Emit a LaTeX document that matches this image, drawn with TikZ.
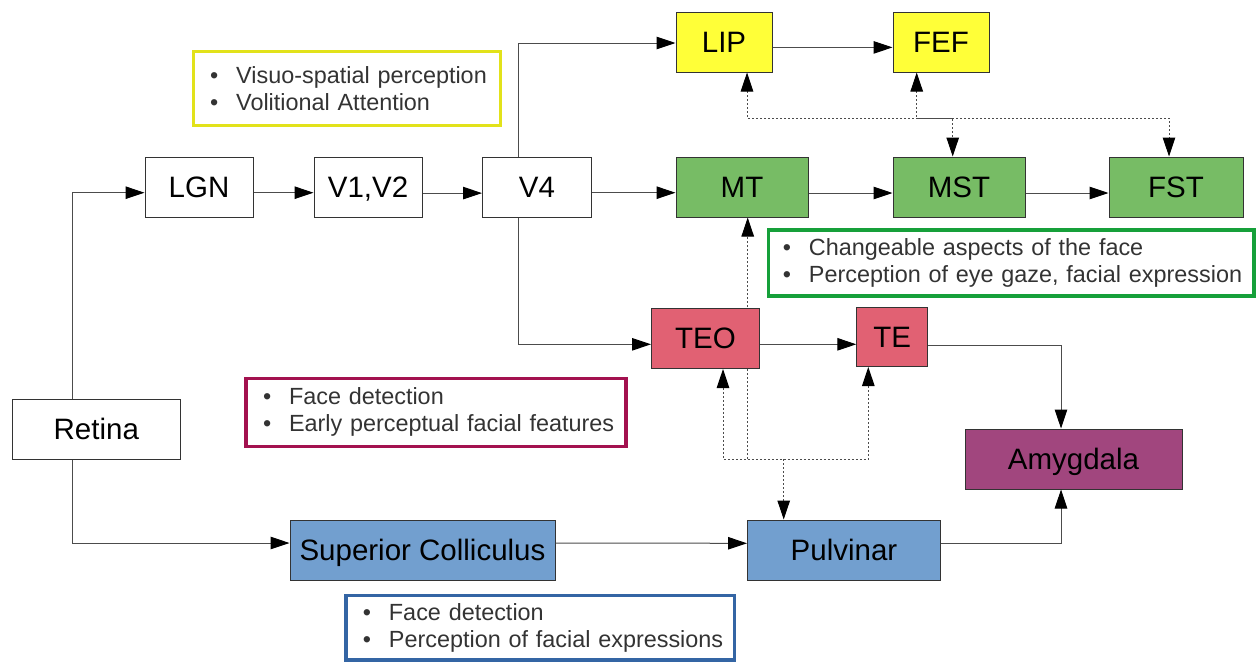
\documentclass[tikz,border=0pt]{standalone}
\usepackage{fontspec}
\setmainfont{Liberation Sans}
\usepackage{xcolor}
\usepackage{tikz}
\usetikzlibrary{positioning, arrows.meta, backgrounds}

\definecolor{dorsalyellow}{HTML}{FFFF38}
\definecolor{motiongreen}{HTML}{77BC65}
\definecolor{itred}{HTML}{E16173}
\definecolor{amygpurple}{HTML}{A1467E}
\definecolor{subblue}{HTML}{729FCF}
\definecolor{noteyellow}{HTML}{E2E21A}
\definecolor{notegreen}{HTML}{16A03A}
\definecolor{notecrimson}{HTML}{A3114F}
\definecolor{noteblue}{HTML}{3465A4}

\newcommand{\bitem}[1]{\mbox{\makebox[26pt][l]{\textbullet}#1}}

\begin{document}
\begin{tikzpicture}[x=1pt, y=-1pt,
  >={Triangle[length=19pt, width=12.5pt, color=black]},
  area/.style={draw=black!80, line width=1pt, inner sep=2pt, minimum height=60pt,
    text=black, text height=23pt, text depth=3pt, font=\fontsize{29.5}{34}\selectfont},
  note/.style={line width=3.5pt, align=left, inner ysep=0pt, text=black!80,
    font=\fontsize{23.4}{27}\selectfont},
  wire/.style={draw=black!70, line width=1pt},
  dotline/.style={wire, dash pattern=on 2pt off 2pt}]
\useasboundingbox (0,0) rectangle (1258,664);

% Top row
\node[area, fill=dorsalyellow, minimum width=96pt] (lip) at (724,42) {LIP};
\node[area, fill=dorsalyellow, minimum width=96pt] (fef) at (941,42) {FEF};

% Middle row
\node[area, minimum width=108pt] (lgn) at (199,187.3) {LGN};
\node[area, minimum width=108pt] (v12) at (368,187.3) {V1,V2};
\node[area, minimum width=109pt] (v4) at (537,187.3) {V4};
\node[area, fill=motiongreen, minimum width=132pt] (mt) at (742,187) {MT};
\node[area, fill=motiongreen, minimum width=132pt] (mst) at (959,187) {MST};
\node[area, fill=motiongreen, minimum width=134pt] (fst) at (1176,187) {FST};

% Ventral row
\node[area, fill=itred, minimum width=108pt] (teo) at (705.5,338.5) {TEO};
\node[area, fill=itred, minimum width=71pt, minimum height=59pt] (te) at (892.3,337) {TE};

% Bottom rows
\node[area, minimum width=168pt] (retina) at (96.3,429) {Retina};
\node[area, fill=amygpurple, minimum width=217pt] (amyg) at (1073.5,459) {Amygdala};
\node[area, fill=subblue, minimum width=265pt] (sc) at (422.5,550) {Superior Colliculus};
\node[area, fill=subblue, minimum width=193pt] (pulv) at (844,550) {Pulvinar};

% Notes
\node[note, draw=noteyellow, minimum width=307pt, minimum height=74pt, text width=274pt, inner xsep=16.5pt]
  (dorsalnote) at (347.2,88.5) {\bitem{Visuo-spatial perception}\\\bitem{Volitional Attention}};
\node[note, draw=notegreen, minimum width=485.7pt, minimum height=66pt, text width=456.7pt, inner xsep=14.5pt]
  (motionnote) at (1011.3,263) {\bitem{Changeable aspects of the face}\\\bitem{Perception of eye gaze, facial expression}};
\node[note, draw=notecrimson, minimum width=380pt, minimum height=67.8pt, text width=346pt, inner xsep=17pt]
  (ventralnote) at (436,412.4) {\bitem{Face detection}\\\bitem{Early perceptual facial features}};
\node[note, draw=noteblue, minimum width=388.7pt, minimum height=64.7pt, text width=354.7pt, inner xsep=17pt]
  (subnote) at (540.3,627.7) {\bitem{Face detection}\\\bitem{Perception of facial expressions}};

% Solid connections
\draw[wire, ->] ([xshift=-24pt]retina.north) |- ([yshift=-5.4pt]lgn.west);
\draw[wire, ->] ([xshift=-24pt]retina.south) |- ([yshift=7pt]sc.west);
\draw[wire, ->] ([yshift=-5.4pt]lgn.east) -- ([yshift=-5.4pt]v12.west);
\draw[wire, ->] ([yshift=-5.8pt]v12.east) -- ([yshift=-5.8pt]v4.west);
\draw[wire, ->] ([yshift=-5.4pt]v4.east) -- ([yshift=-5.7pt]mt.west);
\draw[wire, ->] ([yshift=-6pt]mt.east) -- ([yshift=-6pt]mst.west);
\draw[wire, ->] ([yshift=-6pt]mst.east) -- ([yshift=-6pt]fst.west);
\draw[wire, ->] ([xshift=-18.3pt]v4.north) |- ([yshift=-1pt]lip.west);
\draw[wire, ->] ([yshift=-5.4pt]lip.east) -- ([yshift=-5.4pt]fef.west);
\draw[wire, ->] ([xshift=-18.3pt]v4.south) |- ([yshift=-5.8pt]teo.west);
\draw[wire, ->] ([yshift=-5.8pt]teo.east) -- ([yshift=-7.3pt]te.west);
\draw[wire, ->] ([yshift=-8pt]te.east) -| ([xshift=-12.5pt]amyg.north);
\draw[wire, ->] ([yshift=7pt]sc.east) -- ([yshift=6.7pt]pulv.west);
\draw[wire, ->] ([yshift=6.7pt]pulv.east) -| ([xshift=-12.5pt]amyg.south);

% Dotted connections
\coordinate (dbus) at (0,118);
\coordinate (vbus) at (0,459);
\draw[dotline, <->] ([xshift=23pt]lip.south) |- ([xshift=-7pt]fst.north |- dbus) -- ([xshift=-7pt]fst.north);
\draw[dotline, <->] ([xshift=-24.3pt]fef.south) |- ([xshift=-6.3pt]mst.north |- dbus) -- ([xshift=-6.3pt]mst.north);
\draw[dotline, <->] ([xshift=17.5pt]teo.south) |- ([xshift=-24pt]te.south |- vbus) -- ([xshift=-24pt]te.south);
\draw[dotline, ->] ([xshift=-60.3pt]pulv.north |- vbus) -- ([xshift=-60.3pt]pulv.north);
\begin{pgfonlayer}{background}
\draw[dotline, ->] ([xshift=5.7pt]mt.south |- vbus) -- ([xshift=5.7pt]mt.south);
\end{pgfonlayer}
\end{tikzpicture}
\end{document}
